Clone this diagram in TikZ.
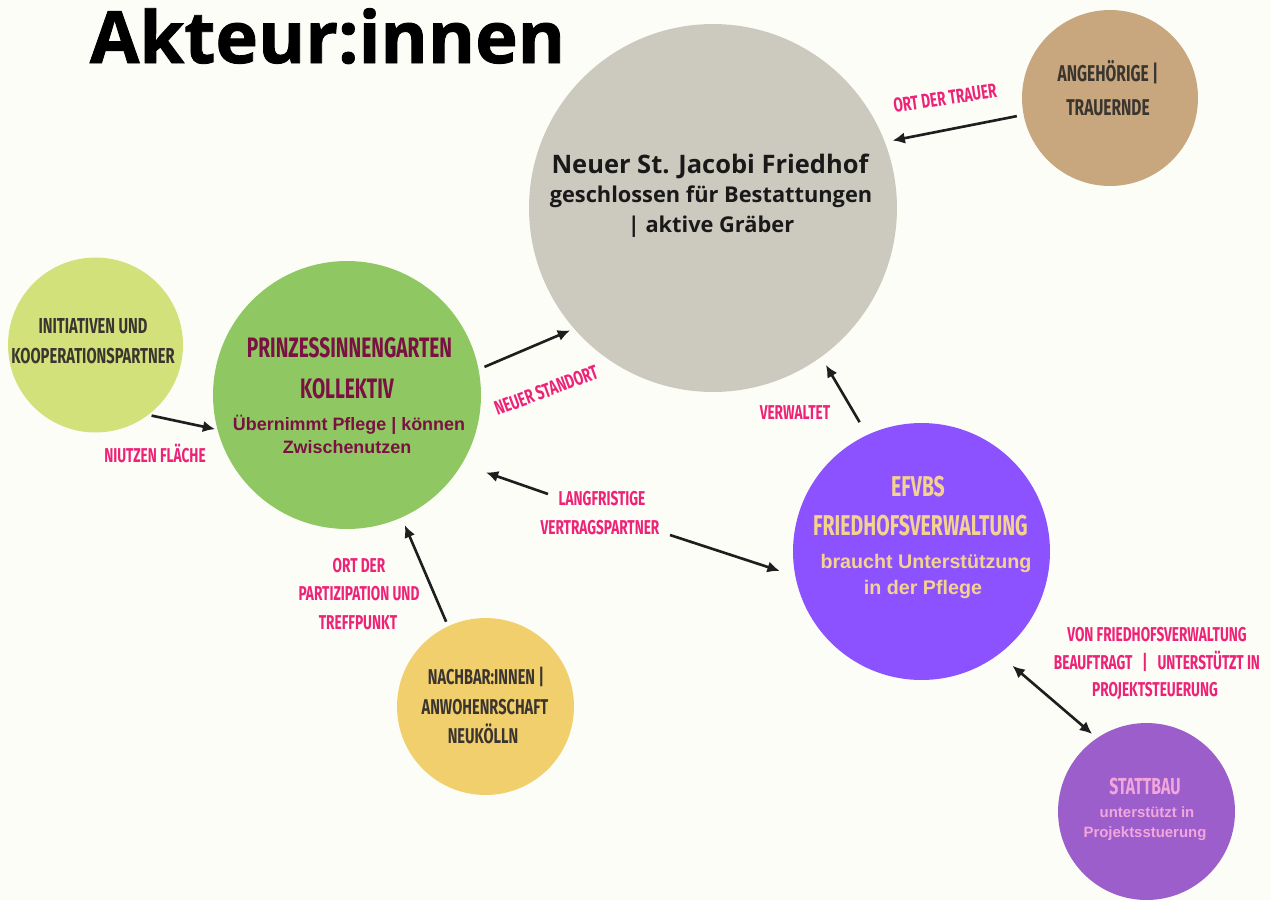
\documentclass[tikz,border=0pt]{standalone}
\usepackage{fontspec}
\setmainfont{Open Sans}
\newfontfamily\titlefont{Open Sans}[BoldFeatures={FakeBold=1.2}]
\newfontfamily\bebas{Fira Sans}[FakeStretch=0.68]
\newfontfamily\arialb{Liberation Sans}
\usetikzlibrary{arrows.meta}
\definecolor{bgc}{HTML}{FCFDF7}
\definecolor{grayc}{HTML}{CCC9BF}
\definecolor{tanc}{HTML}{C8A67E}
\definecolor{lgreenc}{HTML}{D3E17B}
\definecolor{greenc}{HTML}{8FC863}
\definecolor{yellowc}{HTML}{F2CF6D}
\definecolor{purplec}{HTML}{8C52FF}
\definecolor{stattc}{HTML}{9B5ECB}
\definecolor{pinkc}{HTML}{EE2277}
\definecolor{maroonc}{HTML}{7A1142}
\definecolor{goldc}{HTML}{F5D28E}
\definecolor{lavc}{HTML}{F2A6DB}
\definecolor{darkc}{HTML}{3B3530}
\definecolor{arrc}{HTML}{1E1E1E}
\tikzset{
  circ/.style={circle, inner sep=0pt, outer sep=0pt, draw=none},
  lab/.style={font=\bebas\bfseries\fontsize{11.4}{13}\selectfont, text=pinkc, inner sep=0pt, anchor=base},
  capt/.style={font=\bebas\bfseries\fontsize{#1}{#1}\selectfont, inner sep=0pt, anchor=base},
  sub/.style={font=\arialb\bfseries\fontsize{#1}{#1}\selectfont, inner sep=0pt, anchor=base},
  fried/.style={font=\bfseries\fontsize{#1}{#1}\selectfont, inner sep=0pt, anchor=base, text=black!90},
  arr/.style={line width=1.5pt, draw=arrc, -{Latex[length=7pt,width=6.5pt]}},
  dblarr/.style={line width=1.5pt, draw=arrc, {Latex[length=7pt,width=6.5pt]}-{Latex[length=7pt,width=6.5pt]}},
}
\begin{document}
\begin{tikzpicture}[x=0.02cm,y=-0.02cm]
\fill[bgc] (0,0) rectangle (1271,900);
\useasboundingbox (0,0) rectangle (1271,900);

% title
\node[font=\titlefont\bfseries\fontsize{41}{48}\selectfont, anchor=base, inner sep=0pt] (title) at (327.5,63) {Akteur:innen};

% circles
\node[circ, fill=grayc, minimum size=7.36cm] (fried) at (713,208) {};
\node[circ, fill=tanc, minimum size=3.52cm] (ang) at (1110,98) {};
\node[circ, fill=lgreenc, minimum size=3.5cm] (init) at (95.5,345) {};
\node[circ, fill=greenc, minimum size=5.36cm] (prinz) at (347,395) {};
\node[circ, fill=yellowc, minimum size=3.54cm] (nach) at (485.5,706.5) {};
\node[circ, fill=purplec, minimum size=5.14cm] (efvbs) at (921.5,551.5) {};
\node[circ, fill=stattc, minimum size=3.54cm] (statt) at (1146.5,811.5) {};

% circle texts
\node[fried=14.5] (f1) at (710,173) {Neuer St. Jacobi Friedhof};
\node[fried=12.4] (f2) at (711,202) {geschlossen für Bestattungen};
\node[fried=12.4] (f3) at (711,232) {| aktive Gräber};

\node[capt=13, text=darkc] (a1) at (1108,81) {ANGEHÖRIGE |};
\node[capt=13, text=darkc] (a2) at (1108,115) {TRAUERNDE};

\node[capt=12.3, text=darkc] (i1) at (93,333) {INITIATIVEN UND};
\node[capt=12.3, text=darkc] (i2) at (93,363) {KOOPERATIONSPARTNER};

\node[capt=16, text=maroonc] (p1) at (349.5,357) {PRINZESSINNENGARTEN};
\node[capt=16, text=maroonc] (p2) at (347,398) {KOLLEKTIV};
\node[sub=10.2, text=maroonc] (p3) at (349,430) {Übernimmt Pflege | können};
\node[sub=10.2, text=maroonc] (p4) at (347,453) {Zwischenutzen};

\node[capt=16.3, text=goldc] (e1) at (918,496) {EFVBS};
\node[capt=16.3, text=goldc] (e2) at (920.5,535) {FRIEDHOFSVERWALTUNG};
\node[sub=11.2, text=goldc] (e3) at (926,568) {braucht Unterstützung};
\node[sub=11.2, text=goldc] (e4) at (923,594) {in der Pflege};

\node[capt=12.2, text=darkc] (n1) at (486,684) {NACHBAR:INNEN |};
\node[capt=12.2, text=darkc] (n2) at (485,714) {ANWOHENRSCHAFT};
\node[capt=12.2, text=darkc] (n3) at (483,743) {NEUKÖLLN};

\node[capt=13.2, text=lavc] (s1) at (1145,794) {STATTBAU};
\node[sub=8.5, text=lavc] (s2) at (1147,817) {unterstützt in};
\node[sub=8.5, text=lavc] (s3) at (1145,837) {Projektsstuerung};

% connectors
\draw[arr, shorten <=0.14cm, shorten >=0.16cm] (ang.191.5) -- (fried.21.4);
\draw[arr, shorten <=0.07cm, shorten >=0.05cm] (init.-53.3) -- (prinz.195);
\draw[arr, shorten <=0.13cm, shorten >=0.09cm] (prinz.11.1) -- (fried.-139.3);
\draw[arr, shorten <=0.3cm, shorten >=0.19cm] (efvbs.115.4) -- (fried.-54.7);
\draw[arr, shorten <=0.1cm, shorten >=0.17cm] (nach.115.6) -- (prinz.-66);
\draw[dblarr, shorten <=0.36cm, shorten >=0.13cm] (efvbs.-53.9) -- (statt.124.3);
\coordinate (lvA) at (548,494);
\coordinate (lvB) at (670,535);
\draw[arr, shorten >=0.51cm] (lvA) -- (prinz.-31);
\draw[arr, shorten >=0.33cm] (lvB) -- (efvbs.191.5);

% connector labels
\node[lab, rotate=8.4] (lt) at (946,105) {ORT DER TRAUER};
\node[lab] (ln) at (155,462) {NIUTZEN FLÄCHE};
\node[lab, rotate=20.4] (ls) at (548.6,397) {NEUER STANDORT};
\node[lab] (lw) at (795,419) {VERWALTET};
\node[lab] (lv1) at (602,505) {LANGFRISTIGE};
\node[lab] (lv2) at (600,534) {VERTRAGSPARTNER};
\node[lab] (lo1) at (359,572) {ORT DER};
\node[lab] (lo2) at (359,600) {PARTIZIPATION UND};
\node[lab] (lo3) at (358,629) {TREFFPUNKT};
\node[lab] (lb1) at (1157,641) {VON FRIEDHOFSVERWALTUNG};
\node[lab] (lb2) at (1157,669) {BEAUFTRAGT\enspace|\enspace UNTERSTÜTZT IN};
\node[lab] (lb3) at (1155,696) {PROJEKTSTEUERUNG};
\end{tikzpicture}
\end{document}
